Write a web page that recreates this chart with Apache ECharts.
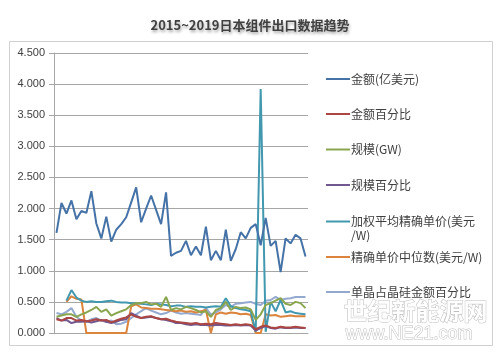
<!DOCTYPE html>
<html>
<head>
<meta charset="utf-8">
<title>2015~2019日本组件出口数据趋势</title>
<script src="https://cdn.jsdelivr.net/npm/echarts@6/dist/echarts.min.js"></script>
<style>
    html, body {margin: 0; padding: 0; background: #fff;}
    #chart {width: 500px; height: 352px;}
</style>
</head>
<body>
<div id="chart"></div>
<script>
var title = '2015~2019日本组件出口数据趋势';
var yTicks = [0, 0.5, 1, 1.5, 2, 2.5, 3, 3.5, 4, 4.5];

// 51 个月 (2015.1 - 2019.3)
var months = [];
for (var y = 2015; y <= 2019; y++) {
    for (var m = 1; m <= 12; m++) {
        if (months.length < 51) months.push(y + '.' + m);
    }
}

var names = ['金额(亿美元)', '金额百分比', '规模(GW)', '规模百分比',
             '加权平均精确单价(美元/W)', '精确单价中位数(美元/W)', '单晶占晶硅金额百分比'];
var colors = ['#4572A7', '#AA4643', '#89A54E', '#71588F', '#4198AF', '#DB843D', '#93A9CF'];

var amount = [1.61, 2.09, 1.92, 2.13, 1.83, 1.96, 1.93, 2.28, 1.76, 1.52,
              1.87, 1.47, 1.66, 1.75, 1.86, 2.10, 2.34, 1.78, 2.00, 2.21,
              1.98, 1.75, 2.26, 1.24, 1.29, 1.32, 1.48, 1.25, 1.39, 1.25,
              1.71, 1.17, 1.32, 1.17, 1.66, 1.16, 1.35, 1.62, 1.52, 1.69,
              1.75, 1.41, 1.85, 1.40, 1.48, 0.98, 1.52, 1.44, 1.58, 1.52, 1.23];
var amountPct = [0.22, 0.20, 0.24, 0.24, 0.20, 0.21, 0.19, 0.20, 0.22, 0.20,
                 0.21, 0.17, 0.20, 0.23, 0.25, 0.30, 0.26, 0.24, 0.26, 0.27,
                 0.24, 0.22, 0.23, 0.20, 0.18, 0.17, 0.16, 0.15, 0.16, 0.14,
                 0.15, 0.14, 0.16, 0.15, 0.14, 0.13, 0.14, 0.13, 0.14, 0.13,
                 0.06, 0.10, 0.12, 0.09, 0.08, 0.10, 0.09, 0.09, 0.10, 0.09, 0.08];
var volume = [0.26, 0.28, 0.30, 0.30, 0.26, 0.30, 0.33, 0.37, 0.42, 0.34,
              0.38, 0.28, 0.32, 0.35, 0.38, 0.45, 0.48, 0.48, 0.50, 0.46,
              0.47, 0.42, 0.58, 0.37, 0.40, 0.38, 0.42, 0.40, 0.37, 0.33,
              0.35, 0.26, 0.37, 0.40, 0.50, 0.37, 0.42, 0.40, 0.41, 0.38,
              0.21, 0.30, 0.45, 0.48, 0.52, 0.56, 0.47, 0.45, 0.50, 0.48, 0.40];
var volumePct = [0.24, 0.20, 0.21, 0.16, 0.18, 0.18, 0.19, 0.17, 0.19, 0.21,
                 0.18, 0.16, 0.18, 0.21, 0.22, 0.32, 0.28, 0.24, 0.25, 0.26,
                 0.24, 0.22, 0.21, 0.19, 0.16, 0.16, 0.14, 0.13, 0.14, 0.13,
                 0.13, 0.12, 0.13, 0.13, 0.12, 0.12, 0.13, 0.12, 0.13, 0.12,
                 0.04, 0.08, 0.11, 0.08, 0.07, 0.09, 0.08, 0.08, 0.09, 0.08, 0.08];
var avgPrice = [null, null, 0.52, 0.69, 0.57, 0.52, 0.50, 0.51, 0.50, 0.50,
                0.51, 0.52, 0.50, 0.49, 0.49, 0.48, 0.48, 0.47, 0.46, 0.45,
                0.47, 0.46, 0.45, 0.43, 0.44, 0.44, 0.42, 0.43, 0.42, 0.42,
                0.41, 0.42, 0.43, 0.42, 0.56, 0.43, 0.40, 0.38, 0.37, 0.35,
                0.02, 3.92, 0.02, 0.50, 0.35, 0.53, 0.33, 0.35, 0.32, 0.31, 0.30];
var medianPrice = [null, null, 0.50, 0.59, 0.55, 0.54, 0, 0, 0, 0,
                   0, 0, 0, 0, 0, 0.43, 0.46, 0.41, 0.40, 0.39,
                   0.39, 0.38, 0.37, 0.36, 0.35, 0.36, 0.34, 0.35, 0.33, 0.35,
                   0.37, 0, 0.30, 0.33, 0.31, 0.33, 0.32, 0.30, 0.31, 0.29,
                   0, 0, 0.30, 0.28, 0.29, 0.26, 0.27, 0.28, 0.27, 0.27, 0.27];
var monoPct = [0.32, 0.30, 0.34, 0.40, 0.26, 0.20, 0.18, 0.22, 0.24, 0.20,
               0.18, 0.20, 0.14, 0.15, 0.18, 0.24, 0.30, 0.35, 0.40, 0.36,
               0.33, 0.30, 0.32, 0.36, 0.33, 0.31, 0.32, 0.31, 0.30, 0.29,
               0.40, 0.30, 0.33, 0.38, 0.45, 0.42, 0.47, 0.48, 0.49, 0.50,
               0.47, 0.45, 0.52, 0.53, 0.58, 0.53, 0.55, 0.56, 0.58, 0.58, 0.58];

var seriesData = [amount, amountPct, volume, volumePct, avgPrice, medianPrice, monoPct];
var legendY = [79, 114, 149.5, 185, 221.5, 257, 292];

var font = '"Noto Sans CJK SC", "Liberation Sans", sans-serif';

function _legend(i) {
    var lh = 14;
    var twoLine = (i === 4);
    return {
        data: [names[i]],
        left: 326,
        top: twoLine ? legendY[i] - lh * 1.5 : legendY[i] - lh / 2,
        icon: 'rect',
        itemWidth: 24,
        itemHeight: 2,
        itemGap: 0,
        padding: 0,
        selectedMode: false,
        formatter: twoLine ? function () { return '\n加权平均精确单价(美元\n/W)'; } : '{name}',
        textStyle: {fontFamily: font, fontSize: 12, color: '#404040', lineHeight: lh, padding: [0, 0, 0, -4]}
    };
}

function _series(i) {
    return {
        name: names[i],
        type: 'line',
        data: seriesData[i],
        symbol: 'none',
        connectNulls: false,
        z: 10 - i,
        lineStyle: {width: 2, color: colors[i]},
        itemStyle: {color: colors[i]}
    };
}

var legends = [], series = [];
for (var i = 0; i < names.length; i++) {
    legends.push(_legend(i));
    series.push(_series(i));
}

var chart = echarts.init(document.getElementById('chart'));
chart.setOption({
    animation: false,
    backgroundColor: '#fff',
    title: {
        text: title,
        left: 'center',
        top: 14,
        textStyle: {
            fontFamily: font, fontSize: 13, fontWeight: 'bold', color: '#404040',
            textShadowColor: 'rgba(0,0,0,0.35)', textShadowBlur: 3,
            textShadowOffsetX: 1, textShadowOffsetY: 2
        }
    },
    legend: legends,
    grid: {left: 54, right: 192, top: 53, bottom: 19},
    xAxis: {
        type: 'category',
        data: months,
        boundaryGap: true,
        axisLine: {show: true, lineStyle: {color: '#a6a6a6'}},
        axisTick: {show: false},
        axisLabel: {show: false}
    },
    yAxis: {
        type: 'value',
        min: yTicks[0],
        max: yTicks[yTicks.length - 1],
        interval: 0.5,
        axisLine: {show: true, lineStyle: {color: '#a6a6a6'}},
        axisTick: {show: true, length: 5, lineStyle: {color: '#a6a6a6'}},
        axisLabel: {
            fontFamily: '"Liberation Sans", sans-serif', fontSize: 11, color: '#404040', margin: 9,
            formatter: function (v) { return v.toFixed(3); }
        },
        splitLine: {lineStyle: {color: '#a6a6a6', width: 1}}
    },
    graphic: [
        {
            type: 'rect', z: -10, silent: true,
            shape: {x: 9.5, y: 41.5, width: 483, height: 304},
            style: {fill: 'none', stroke: '#d0d0d0', lineWidth: 1}
        },
        {
            type: 'text', left: 343, top: 298, silent: true,
            style: {text: '世纪新能源网', font: 'bold 24px ' + font, fill: '#fff', stroke: '#bdbdbd', lineWidth: 1}
        },
        {
            type: 'text', left: 345, top: 325, silent: true,
            style: {text: 'www.NE21.com', font: '18px "Liberation Sans", sans-serif', fill: '#fff', stroke: '#bdbdbd', lineWidth: 1}
        }
    ],
    series: series
});
</script>
</body>
</html>
